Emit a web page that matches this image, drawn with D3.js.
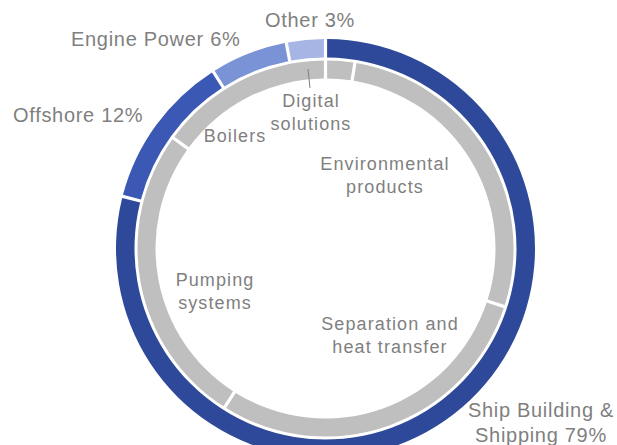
<!DOCTYPE html>
<html>
<head>
<meta charset="utf-8">
<script src="https://cdn.jsdelivr.net/npm/d3@7"></script>
<style>
  html, body { margin: 0; padding: 0; background: #fff; }
  svg { display: block; }
  text { font-family: "Liberation Sans", Arial, sans-serif; fill: #7f7f7f; }
</style>
</head>
<body>
<svg id="chart" width="617" height="445"></svg>
<script>
// Outer ring: markets (share %)
const marketNames = ["Ship Building & Shipping", "Offshore", "Engine Power", "Other"];
const marketValues = [79, 12, 6, 3];
const marketLabels = [["Ship Building &", "Shipping 79%"], ["Offshore 12%"], ["Engine Power 6%"], ["Other 3%"]];
const marketColors = ["#2e4999", "#3a58b4", "#7a92d6", "#a7b5e4"];

// Inner ring: product areas (estimated share %)
const productNames = ["Digital solutions", "Environmental products", "Separation and heat transfer", "Pumping systems", "Boilers"];
const productValues = [2.5, 27.5, 29, 26, 15];
const productLabels = [["Digital", "solutions"], ["Environmental", "products"], ["Separation and", "heat transfer"], ["Pumping", "systems"], ["Boilers"]];
const productColor = "#bfbfbf";

const svg = d3.select("#chart");
const cx = 325.5, cy = 248.5;
const g = svg.append("g").attr("transform", `translate(${cx},${cy})`);

const pie = d3.pie().sort(null).value(d => d);

const outerArc = d3.arc().innerRadius(191).outerRadius(209.5).padRadius(200).padAngle(0.016);
const innerArc = d3.arc().innerRadius(170).outerRadius(188).padRadius(180).padAngle(0.018);

g.selectAll("path.market")
  .data(pie(marketValues))
  .join("path")
  .attr("class", "market")
  .attr("d", outerArc)
  .attr("fill", (d, i) => marketColors[i]);

g.selectAll("path.product")
  .data(pie(productValues))
  .join("path")
  .attr("class", "product")
  .attr("d", innerArc)
  .attr("fill", productColor);

// Label placement (absolute page coordinates)
const marketLabelPos = [
  {x: 541, y: 417, anchor: "middle"},
  {x: 13, y: 122, anchor: "start"},
  {x: 71, y: 46, anchor: "start"},
  {x: 265, y: 27, anchor: "start"}
];
const productLabelPos = [
  {x: 311, y: 107},
  {x: 385, y: 170},
  {x: 390, y: 330},
  {x: 215, y: 286},
  {x: 235, y: 142}
];

marketLabels.forEach((lines, i) => {
  const p = marketLabelPos[i];
  const t = svg.append("text")
    .attr("x", p.x).attr("y", p.y)
    .attr("text-anchor", p.anchor)
    .style("font-size", "20px")
    .style("letter-spacing", "0.7px");
  lines.forEach((ln, j) => {
    t.append("tspan").attr("x", p.x).attr("dy", j === 0 ? 0 : 25).text(ln);
  });
});

productLabels.forEach((lines, i) => {
  const p = productLabelPos[i];
  const t = svg.append("text")
    .attr("x", p.x).attr("y", p.y)
    .attr("text-anchor", "middle")
    .style("font-size", "18px")
    .style("letter-spacing", "1.1px");
  lines.forEach((ln, j) => {
    t.append("tspan").attr("x", p.x).attr("dy", j === 0 ? 0 : 23).text(ln);
  });
});

// Leader line for Digital solutions
svg.append("line")
  .attr("x1", 308).attr("y1", 69)
  .attr("x2", 310).attr("y2", 88)
  .attr("stroke", "#7f7f7f").attr("stroke-width", 1);
</script>
</body>
</html>
